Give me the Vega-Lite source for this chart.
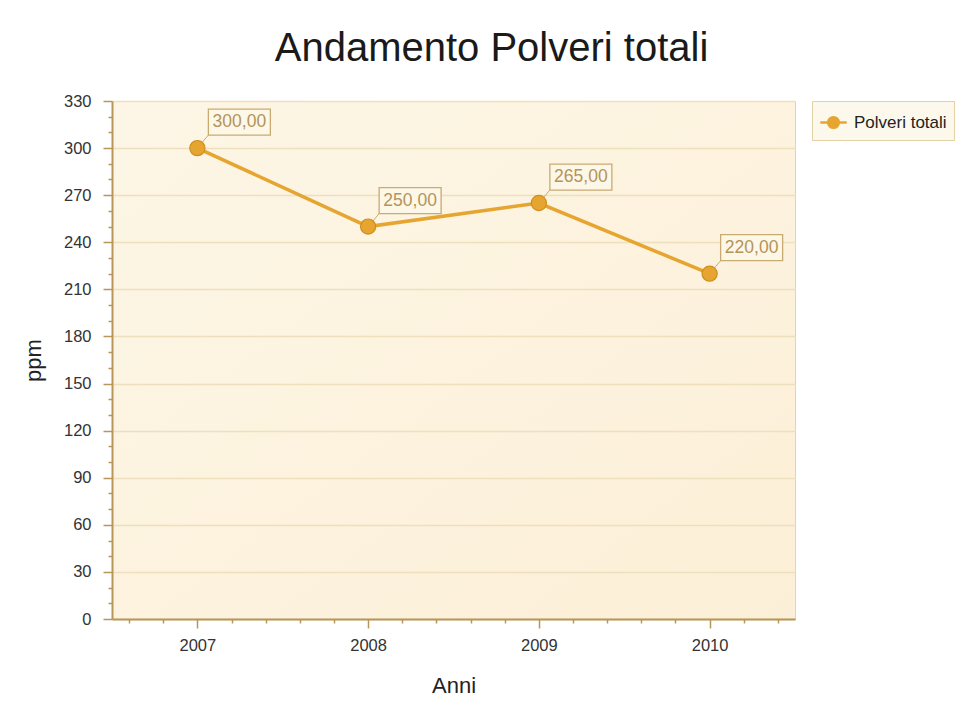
{
  "$schema": "https://vega.github.io/schema/vega-lite/v6.json",
  "autosize": {"type": "none"},
  "width": 683,
  "height": 518,
  "padding": {"left": 112, "top": 101, "right": 166, "bottom": 87},
  "background": "#ffffff",
  "title": {
    "text": "Andamento Polveri totali",
    "font": "Liberation Sans",
    "fontSize": 40,
    "fontWeight": "normal",
    "color": "#1a1a1a",
    "anchor": "middle",
    "frame": "group",
    "dx": 38,
    "offset": 24
  },
  "config": {
    "locale": {"number": {"decimal": ",", "thousands": ".", "grouping": [3], "currency": ["", " €"]}},
    "view": {
      "fill": {"gradient": "linear", "x1": 0, "y1": 0, "x2": 1, "y2": 1, "stops": [{"offset": 0, "color": "#fdf6e6"}, {"offset": 1, "color": "#fcefd7"}]},
      "stroke": "#e6d4a8",
      "strokeWidth": 1
    },
    "font": "Liberation Sans"
  },
  "data": {
    "values": [
      {"Anno": 2007, "Polveri": 300, "Serie": "Polveri totali"},
      {"Anno": 2008, "Polveri": 250, "Serie": "Polveri totali"},
      {"Anno": 2009, "Polveri": 265, "Serie": "Polveri totali"},
      {"Anno": 2010, "Polveri": 220, "Serie": "Polveri totali"}
    ]
  },
  "encoding": {
    "x": {
      "field": "Anno",
      "type": "quantitative",
      "scale": {"domain": [2006.5, 2010.5], "nice": false, "zero": false},
      "axis": {
        "title": "Anni",
        "titleFont": "Liberation Sans",
        "titleFontSize": 22,
        "titleFontWeight": "normal",
        "titleColor": "#222222",
        "titlePadding": 22,
        "values": [2006.6, 2006.8, 2007, 2007.2, 2007.4, 2007.6, 2007.8, 2008, 2008.2, 2008.4, 2008.6, 2008.8, 2009, 2009.2, 2009.4, 2009.6, 2009.8, 2010, 2010.2, 2010.4],
        "labelExpr": "abs(datum.value - round(datum.value)) < 0.01 ? format(round(datum.value), 'd') : ''",
        "labelFontSize": 16.5,
        "labelColor": "#333333",
        "labelPadding": 9,
        "grid": false,
        "domainColor": "#b8965a",
        "domainWidth": 2,
        "tickColor": "#b8965a",
        "tickWidth": 1.5,
        "tickSize": {"condition": {"test": "abs(datum.value - round(datum.value)) < 0.01", "value": 9}, "value": 4}
      }
    },
    "y": {
      "field": "Polveri",
      "type": "quantitative",
      "scale": {"domain": [0, 330], "nice": false},
      "axis": {
        "title": "ppm",
        "titleFont": "Liberation Sans",
        "titleFontSize": 22,
        "titleFontWeight": "normal",
        "titleColor": "#222222",
        "titlePadding": 18,
        "values": [0, 10, 20, 30, 40, 50, 60, 70, 80, 90, 100, 110, 120, 130, 140, 150, 160, 170, 180, 190, 200, 210, 220, 230, 240, 250, 260, 270, 280, 290, 300, 310, 320, 330],
        "labelExpr": "datum.value % 30 === 0 ? datum.value : ''",
        "labelFontSize": 16.5,
        "labelColor": "#333333",
        "labelPadding": 12,
        "gridColor": "#efe0bd",
        "gridWidth": 1.5,
        "gridOpacity": {"condition": {"test": "datum.value % 30 === 0", "value": 1}, "value": 0},
        "domainColor": "#b8965a",
        "domainWidth": 2,
        "tickColor": "#b8965a",
        "tickWidth": 1.5,
        "tickSize": {"condition": {"test": "datum.value % 30 === 0", "value": 9}, "value": 4}
      }
    }
  },
  "layer": [
    {
      "mark": {"type": "line", "color": "#e2a232", "strokeWidth": 3.5},
      "encoding": {
        "color": {
          "field": "Serie",
          "type": "nominal",
          "scale": {"range": ["#e6a530"]},
          "legend": {
            "title": null,
            "orient": "none",
            "legendX": 700,
            "legendY": 0,
            "strokeColor": "#e4d2a6",
            "fillColor": "#fdf8ec",
            "padding": 7,
            "labelFontSize": 17,
            "labelFont": "Liberation Sans",
            "labelColor": "#222222",
            "labelOffset": 6,
            "symbolType": "M-1,0L-0.4,0M0.4,0L1,0M-0.4,0A0.4,0.4 0 1,1 0.4,0A0.4,0.4 0 1,1 -0.4,0Z",
            "symbolSize": 700,
            "symbolStrokeWidth": 2.5,
            "symbolFillColor": "#e6a530",
            "symbolStrokeColor": "#e0a030"
          }
        }
      }
    },
    {
      "mark": {"type": "rule", "color": "#c9ab72", "strokeWidth": 1, "x2Offset": 11, "y2Offset": -13},
      "encoding": {
        "x2": {"field": "Anno"},
        "y2": {"field": "Polveri"}
      }
    },
    {
      "mark": {"type": "point", "filled": true, "size": 230, "fill": "#e6a530", "stroke": "#d08d1e", "strokeWidth": 1.2, "opacity": 1}
    },
    {
      "mark": {"type": "rect", "width": 62, "height": 26, "xOffset": 42, "yOffset": -26, "fill": "#fdf7e8", "stroke": "#c9ab72", "strokeWidth": 1.3}
    },
    {
      "mark": {"type": "text", "dx": 42, "dy": -26, "align": "center", "baseline": "middle", "fontSize": 17.5, "font": "Liberation Sans", "color": "#b4945a"},
      "encoding": {
        "text": {"field": "Polveri", "type": "quantitative", "format": ".2f"}
      }
    }
  ]
}
